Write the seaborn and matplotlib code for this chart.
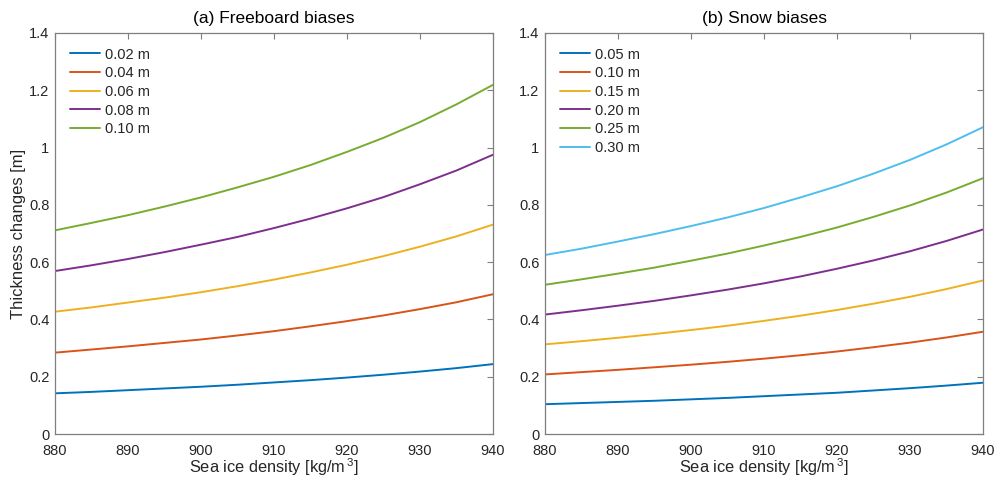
import matplotlib
matplotlib.use("Agg")
import matplotlib.pyplot as plt
import seaborn as sns
import pandas as pd

density = [880, 885, 890, 895, 900, 905, 910, 915, 920, 925, 930, 935, 940]

fb_labels = ["0.02 m", "0.04 m", "0.06 m", "0.08 m", "0.10 m"]
fb_002 = [0.142, 0.147, 0.153, 0.159, 0.165, 0.172, 0.180, 0.188, 0.197, 0.207, 0.218, 0.230, 0.244]
fb_004 = [0.284, 0.295, 0.306, 0.318, 0.330, 0.344, 0.359, 0.376, 0.394, 0.414, 0.436, 0.460, 0.488]
fb_006 = [0.427, 0.442, 0.459, 0.476, 0.495, 0.516, 0.539, 0.564, 0.591, 0.621, 0.654, 0.690, 0.731]
fb_008 = [0.569, 0.589, 0.611, 0.635, 0.661, 0.688, 0.719, 0.752, 0.788, 0.827, 0.872, 0.920, 0.975]
fb_010 = [0.711, 0.737, 0.764, 0.794, 0.826, 0.861, 0.898, 0.939, 0.985, 1.034, 1.089, 1.151, 1.219]

sn_labels = ["0.05 m", "0.10 m", "0.15 m", "0.20 m", "0.25 m", "0.30 m"]
sn_005 = [0.104, 0.108, 0.112, 0.116, 0.121, 0.126, 0.132, 0.138, 0.144, 0.152, 0.160, 0.169, 0.179]
sn_010 = [0.208, 0.216, 0.224, 0.233, 0.242, 0.252, 0.263, 0.275, 0.288, 0.303, 0.319, 0.337, 0.357]
sn_015 = [0.313, 0.324, 0.336, 0.349, 0.363, 0.378, 0.395, 0.413, 0.433, 0.455, 0.479, 0.506, 0.536]
sn_020 = [0.417, 0.432, 0.448, 0.465, 0.484, 0.504, 0.526, 0.550, 0.577, 0.606, 0.638, 0.674, 0.714]
sn_025 = [0.521, 0.540, 0.560, 0.581, 0.605, 0.630, 0.658, 0.688, 0.721, 0.758, 0.798, 0.843, 0.893]
sn_030 = [0.625, 0.647, 0.672, 0.698, 0.726, 0.756, 0.789, 0.826, 0.865, 0.909, 0.957, 1.011, 1.071]

colors = ["#0072BD", "#D95319", "#EDB120", "#7E2F8E", "#77AC30", "#4DBEEE"]

x_ticks = [880, 890, 900, 910, 920, 930, 940]
y_ticks = [0, 0.2, 0.4, 0.6, 0.8, 1.0, 1.2, 1.4]
y_tick_labels = ["0", "0.2", "0.4", "0.6", "0.8", "1", "1.2", "1.4"]


def long_df(labels, series):
    rows = []
    for lab, vals in zip(labels, series):
        for d, v in zip(density, vals):
            rows.append({"density": d, "value": v, "bias": lab})
    return pd.DataFrame(rows)


df_fb = long_df(fb_labels, [fb_002, fb_004, fb_006, fb_008, fb_010])
df_sn = long_df(sn_labels, [sn_005, sn_010, sn_015, sn_020, sn_025, sn_030])

sns.set_style("white")
plt.rcParams["font.family"] = ["Liberation Sans", "DejaVu Sans"]
plt.rcParams["mathtext.fontset"] = "custom"
plt.rcParams["mathtext.rm"] = "Liberation Sans"

fig = plt.figure(figsize=(9.96, 4.8), dpi=100)
ax1 = fig.add_axes([55/996, 1 - 434/480, 438/996, 401/480])
ax2 = fig.add_axes([545/996, 1 - 434/480, 438/996, 401/480])

axis_gray = "#7f7f7f"
text_col = "#262626"

for ax, df, labels, title in [
    (ax1, df_fb, fb_labels, "(a) Freeboard biases"),
    (ax2, df_sn, sn_labels, "(b) Snow biases"),
]:
    sns.lineplot(data=df, x="density", y="value", hue="bias", hue_order=labels,
                 palette=colors[:len(labels)], ax=ax, linewidth=1.4)
    ax.set_xlim(880, 940)
    ax.set_ylim(0, 1.4)
    ax.set_xticks(x_ticks)
    ax.set_yticks(y_ticks)
    ax.set_yticklabels(y_tick_labels)
    ax.tick_params(direction="in", length=4.5, width=0.8, color=axis_gray,
                   labelsize=10.5, labelcolor=text_col, top=True, right=True)
    ax.tick_params(axis="x", pad=7)
    ax.tick_params(axis="y", pad=4)
    for s in ax.spines.values():
        s.set_visible(True)
        s.set_color(axis_gray)
        s.set_linewidth(0.9)
    ax.set_title(title, fontsize=12.5, color="black", pad=7)
    ax.set_xlabel("Sea ice density [kg/m$^{\\,3}$]", fontsize=11.8, color=text_col, labelpad=-1)
    ax.set_ylabel("")
    leg = ax.legend(loc="upper left", frameon=False, fontsize=10.5, handlelength=2.1,
                    handletextpad=0.3, labelspacing=0.32, borderaxespad=0.6,
                    bbox_to_anchor=(0.0, 1.0))
    for t in leg.get_texts():
        t.set_color(text_col)

ax1.set_ylabel("Thickness changes [m]", fontsize=12, color=text_col, labelpad=2)

fig.savefig("out.png", dpi=100)
